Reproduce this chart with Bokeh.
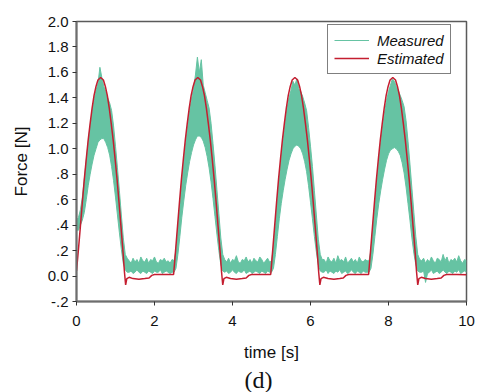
from bokeh.plotting import figure
from bokeh.models import Range1d, FixedTicker, Legend, LegendItem, Title
from bokeh.embed import file_html
from bokeh.resources import INLINE

# ---- Measured force: sampled every 0.05 s, upper / lower envelope of the noisy band ----
meas_t = [
    0.00, 0.05, 0.10, 0.15, 0.20, 0.25, 0.30, 0.35, 0.40, 0.45,
    0.50, 0.55, 0.60, 0.65, 0.70, 0.75, 0.80, 0.85, 0.90, 0.95,
    1.00, 1.05, 1.10, 1.15, 1.20, 1.25, 1.30, 1.35, 1.40, 1.45,
    1.50, 1.55, 1.60, 1.65, 1.70, 1.75, 1.80, 1.85, 1.90, 1.95,
    2.00, 2.05, 2.10, 2.15, 2.20, 2.25, 2.30, 2.35, 2.40, 2.45,
    2.50, 2.55, 2.60, 2.65, 2.70, 2.75, 2.80, 2.85, 2.90, 2.95,
    3.00, 3.05, 3.10, 3.15, 3.20, 3.25, 3.30, 3.35, 3.40, 3.45,
    3.50, 3.55, 3.60, 3.65, 3.70, 3.75, 3.80, 3.85, 3.90, 3.95,
    4.00, 4.05, 4.10, 4.15, 4.20, 4.25, 4.30, 4.35, 4.40, 4.45,
    4.50, 4.55, 4.60, 4.65, 4.70, 4.75, 4.80, 4.85, 4.90, 4.95,
    5.00, 5.05, 5.10, 5.15, 5.20, 5.25, 5.30, 5.35, 5.40, 5.45,
    5.50, 5.55, 5.60, 5.65, 5.70, 5.75, 5.80, 5.85, 5.90, 5.95,
    6.00, 6.05, 6.10, 6.15, 6.20, 6.25, 6.30, 6.35, 6.40, 6.45,
    6.50, 6.55, 6.60, 6.65, 6.70, 6.75, 6.80, 6.85, 6.90, 6.95,
    7.00, 7.05, 7.10, 7.15, 7.20, 7.25, 7.30, 7.35, 7.40, 7.45,
    7.50, 7.55, 7.60, 7.65, 7.70, 7.75, 7.80, 7.85, 7.90, 7.95,
    8.00, 8.05, 8.10, 8.15, 8.20, 8.25, 8.30, 8.35, 8.40, 8.45,
    8.50, 8.55, 8.60, 8.65, 8.70, 8.75, 8.80, 8.85, 8.90, 8.95,
    9.00, 9.05, 9.10, 9.15, 9.20, 9.25, 9.30, 9.35, 9.40, 9.45,
    9.50, 9.55, 9.60, 9.65, 9.70, 9.75, 9.80, 9.85, 9.90, 9.95,
    10.00,
]
meas_hi = [
    # cycle 1 (0.00 - 1.30)
    0.44, 0.46, 0.52, 0.62, 0.76, 0.91, 1.05, 1.18, 1.29, 1.39,
    1.46, 1.51, 1.64, 1.56, 1.49, 1.45, 1.40, 1.36, 1.30, 1.18,
    1.02, 0.85, 0.67, 0.48, 0.30, 0.17, 0.14,
    # rest 1 (1.35 - 2.45)
    0.12, 0.10, 0.14, 0.11, 0.13, 0.10, 0.15, 0.12, 0.11, 0.14,
    0.10, 0.13, 0.12, 0.15, 0.11, 0.10, 0.13, 0.12, 0.14, 0.11,
    0.12, 0.10, 0.13,
    # cycle 2 (2.50 - 3.80)
    0.12, 0.20, 0.39, 0.57, 0.75, 0.91, 1.05, 1.18, 1.30, 1.39,
    1.47, 1.58, 1.72, 1.60, 1.70, 1.50, 1.44, 1.38, 1.32, 1.20,
    1.04, 0.87, 0.68, 0.49, 0.30, 0.17, 0.13,
    # rest 2 (3.85 - 4.95)
    0.11, 0.14, 0.10, 0.13, 0.12, 0.16, 0.11, 0.10, 0.13, 0.12,
    0.15, 0.11, 0.13, 0.10, 0.14, 0.12, 0.11, 0.15, 0.13, 0.10,
    0.12, 0.14, 0.11,
    # cycle 3 (5.00 - 6.30)
    0.12, 0.22, 0.42, 0.61, 0.78, 0.94, 1.08, 1.21, 1.32, 1.40,
    1.46, 1.53, 1.50, 1.55, 1.47, 1.45, 1.41, 1.36, 1.30, 1.17,
    1.02, 0.86, 0.67, 0.48, 0.29, 0.17, 0.13,
    # rest 3 (6.35 - 7.45)
    0.13, 0.10, 0.15, 0.12, 0.11, 0.14, 0.10, 0.16, 0.12, 0.13,
    0.11, 0.15, 0.10, 0.12, 0.14, 0.11, 0.13, 0.10, 0.15, 0.12,
    0.11, 0.13, 0.12,
    # cycle 4 (7.50 - 8.80)
    0.12, 0.20, 0.39, 0.57, 0.75, 0.91, 1.05, 1.18, 1.29, 1.38,
    1.45, 1.50, 1.55, 1.53, 1.49, 1.46, 1.42, 1.38, 1.33, 1.22,
    1.06, 0.88, 0.69, 0.50, 0.31, 0.17, 0.13,
    # rest 4 (8.85 - 10.00)
    0.12, 0.14, 0.10, 0.13, 0.11, 0.15, 0.12, 0.10, 0.14, 0.13,
    0.11, 0.17, 0.12, 0.15, 0.10, 0.13, 0.12, 0.14, 0.11, 0.16,
    0.12, 0.10, 0.13, 0.12,
]
meas_lo = [
    # cycle 1
    0.36, 0.36, 0.40, 0.44, 0.50, 0.60, 0.71, 0.80, 0.88, 0.95,
    1.00, 1.05, 1.07, 1.08, 1.08, 1.05, 1.01, 0.95, 0.86, 0.75,
    0.62, 0.48, 0.34, 0.21, 0.10, 0.05, 0.03,
    # rest 1
    0.03, 0.04, 0.02, 0.03, 0.05, 0.03, 0.02, 0.04, 0.03, 0.02,
    0.04, 0.03, 0.02, 0.04, 0.03, 0.03, 0.05, 0.02, 0.03, 0.04,
    0.03, 0.02, 0.03,
    # cycle 2
    0.03, 0.06, 0.17, 0.31, 0.46, 0.59, 0.71, 0.81, 0.90, 0.97,
    1.03, 1.07, 1.10, 1.10, 1.09, 1.06, 1.01, 0.94, 0.85, 0.74,
    0.61, 0.47, 0.33, 0.20, 0.09, 0.04, 0.03,
    # rest 2
    0.04, 0.02, 0.03, 0.05, 0.03, 0.02, 0.04, 0.03, 0.03, 0.05,
    0.02, 0.03, 0.04, 0.02, 0.03, 0.04, 0.03, 0.02, 0.04, 0.03,
    0.02, 0.04, 0.03,
    # cycle 3
    0.03, 0.06, 0.17, 0.31, 0.45, 0.57, 0.67, 0.76, 0.84, 0.91,
    0.96, 1.00, 1.02, 1.03, 1.02, 1.00, 0.96, 0.90, 0.82, 0.71,
    0.58, 0.45, 0.31, 0.19, 0.09, 0.04, 0.03,
    # rest 3
    0.03, 0.05, 0.02, 0.04, 0.03, 0.02, 0.04, 0.03, 0.05, 0.02,
    0.03, 0.04, 0.02, 0.03, 0.05, 0.03, 0.02, 0.04, 0.03, 0.02,
    0.04, 0.03, 0.03,
    # cycle 4
    0.03, 0.06, 0.17, 0.31, 0.45, 0.57, 0.67, 0.76, 0.84, 0.91,
    0.96, 0.99, 1.00, 1.01, 1.00, 0.98, 0.95, 0.89, 0.81, 0.70,
    0.57, 0.44, 0.30, 0.18, 0.09, 0.04, 0.03,
    # rest 4
    0.03, 0.04, -0.05, 0.02, 0.03, 0.05, 0.02, 0.03, 0.04, 0.02,
    0.03, 0.05, 0.03, 0.02, 0.04, 0.03, 0.02, 0.04, 0.03, 0.05,
    0.02, 0.03, 0.04, 0.03,
]

# ---- Estimated force ----
est_t = [
    0.00, 0.05, 0.10, 0.15, 0.20, 0.25, 0.30, 0.35, 0.40, 0.45, 0.50, 0.55, 0.62,
    0.69, 0.74, 0.79, 0.84, 0.89, 0.94, 0.99, 1.04, 1.09, 1.14, 1.19, 1.23, 1.26,
    1.29, 1.35, 1.45, 1.60, 1.75, 1.86, 1.93, 2.00, 2.25, 2.49,
    2.54, 2.59, 2.64, 2.69, 2.74, 2.79, 2.84, 2.89, 2.94, 2.99, 3.04, 3.11,
    3.18, 3.23, 3.28, 3.33, 3.38, 3.43, 3.48, 3.53, 3.58, 3.63, 3.68, 3.72, 3.75,
    3.78, 3.84, 3.95, 4.10, 4.25, 4.35, 4.42, 4.49, 4.75, 4.98,
    5.03, 5.08, 5.13, 5.18, 5.23, 5.28, 5.33, 5.38, 5.43, 5.48, 5.53, 5.60,
    5.67, 5.72, 5.77, 5.82, 5.87, 5.92, 5.97, 6.02, 6.07, 6.12, 6.17, 6.21, 6.24,
    6.27, 6.33, 6.45, 6.60, 6.75, 6.84, 6.91, 6.98, 7.25, 7.49,
    7.54, 7.59, 7.64, 7.69, 7.74, 7.79, 7.84, 7.89, 7.94, 7.99, 8.04, 8.11,
    8.18, 8.23, 8.28, 8.33, 8.38, 8.43, 8.48, 8.53, 8.58, 8.63, 8.68, 8.72, 8.75,
    8.78, 8.84, 8.95, 9.10, 9.25, 9.35, 9.42, 9.49, 9.75, 10.00,
]
est_f = [
    0.04, 0.21, 0.39, 0.58, 0.76, 0.92, 1.07, 1.20, 1.32, 1.42, 1.49, 1.54, 1.56,
    1.54, 1.49, 1.42, 1.32, 1.20, 1.07, 0.92, 0.76, 0.58, 0.39, 0.20, 0.03, -0.07,
    -0.02, -0.01, -0.02, -0.025, -0.02, -0.015, 0.005, 0.012, 0.013, 0.012,
    0.20, 0.39, 0.58, 0.76, 0.92, 1.07, 1.20, 1.32, 1.42, 1.49, 1.54, 1.56,
    1.54, 1.49, 1.42, 1.32, 1.20, 1.07, 0.92, 0.76, 0.58, 0.39, 0.20, 0.03, -0.07,
    -0.02, -0.01, -0.02, -0.025, -0.02, -0.015, 0.005, 0.012, 0.013, 0.012,
    0.20, 0.39, 0.58, 0.76, 0.92, 1.07, 1.20, 1.32, 1.42, 1.49, 1.54, 1.56,
    1.54, 1.49, 1.42, 1.32, 1.20, 1.07, 0.92, 0.76, 0.58, 0.39, 0.20, 0.03, -0.07,
    -0.02, -0.01, -0.02, -0.025, -0.02, -0.015, 0.005, 0.012, 0.013, 0.012,
    0.20, 0.39, 0.58, 0.76, 0.92, 1.07, 1.20, 1.32, 1.42, 1.49, 1.54, 1.56,
    1.54, 1.49, 1.42, 1.32, 1.20, 1.07, 0.92, 0.76, 0.58, 0.39, 0.20, 0.03, -0.07,
    -0.02, -0.01, -0.02, -0.025, -0.02, -0.015, 0.005, 0.012, 0.013, 0.01,
]

x_ticks = [0, 2, 4, 6, 8, 10]
y_ticks = [-0.2, 0.0, 0.2, 0.4, 0.6, 0.8, 1.0, 1.2, 1.4, 1.6, 1.8, 2.0]
y_tick_labels = ["-.2", "0.0", ".2", ".4", ".6", ".8", "1.0", "1.2", "1.4", "1.6", "1.8", "2.0"]

assert len(meas_t) == len(meas_hi) == len(meas_lo), (len(meas_t), len(meas_hi), len(meas_lo))
assert len(est_t) == len(est_f), (len(est_t), len(est_f))

GREEN = "#66c3a3"
RED = "#c41e30"
FONT = "Liberation Sans"

p = figure(width=477, height=392, output_backend="svg", toolbar_location=None,
           x_range=Range1d(0, 10), y_range=Range1d(-0.2, 2.0),
           min_border_left=76, min_border_right=11, min_border_top=21, min_border_bottom=89,
           background_fill_color="white", border_fill_color="white")

p.varea(x=meas_t, y1=meas_lo, y2=meas_hi, fill_color=GREEN, fill_alpha=1.0)
r_meas = p.line(meas_t, meas_hi, line_color=GREEN, line_width=1)
p.line(meas_t, meas_lo, line_color=GREEN, line_width=1)
r_est = p.line(est_t, est_f, line_color=RED, line_width=1.5)

p.grid.visible = False
p.outline_line_color = "#5a5a5a"
p.outline_line_width = 1.5

for ax in (p.xaxis[0], p.yaxis[0]):
    ax.axis_line_color = "#6e6e6e"
    ax.axis_line_width = 2
    ax.major_tick_line_color = "#333333"
    ax.major_tick_out = 4
    ax.major_tick_in = 0
    ax.minor_tick_line_color = None
    ax.major_label_text_font = FONT
    ax.major_label_text_font_size = "15px"
    ax.major_label_text_color = "#111111"
    ax.axis_label_text_font = FONT
    ax.axis_label_text_font_size = "17px"
    ax.axis_label_text_font_style = "normal"
    ax.axis_label_text_color = "#111111"

p.xaxis.ticker = FixedTicker(ticks=x_ticks)
p.xaxis.axis_label = "time [s]"
p.xaxis.major_label_standoff = 10
p.xaxis.axis_label_standoff = 14

p.yaxis.ticker = FixedTicker(ticks=y_ticks)
p.yaxis.major_label_overrides = dict(zip(y_ticks, y_tick_labels))
p.yaxis.axis_label = "Force [N]"
p.yaxis.major_label_standoff = 4
p.yaxis.axis_label_standoff = 14

legend = Legend(items=[LegendItem(label="Measured", renderers=[r_meas]),
                       LegendItem(label="Estimated", renderers=[r_est])],
                location=(251, 227), orientation="vertical")
legend.border_line_color = "black"
legend.border_line_width = 1
legend.background_fill_color = "white"
legend.background_fill_alpha = 1.0
legend.label_text_font = FONT
legend.label_text_font_style = "italic"
legend.label_text_font_size = "15px"
legend.label_text_color = "#111111"
legend.glyph_width = 35
legend.glyph_height = 18
legend.label_height = 18
legend.label_standoff = 8
legend.padding = 6
legend.spacing = 0
legend.margin = 0
p.add_layout(legend)

cap = Title(text="(d)", align="left", offset=168, standoff=0,
            text_font="Liberation Serif", text_font_size="24px",
            text_font_style="normal", text_color="#111111")
p.add_layout(cap, "below")

open("out.html", "w").write(file_html(p, INLINE))
